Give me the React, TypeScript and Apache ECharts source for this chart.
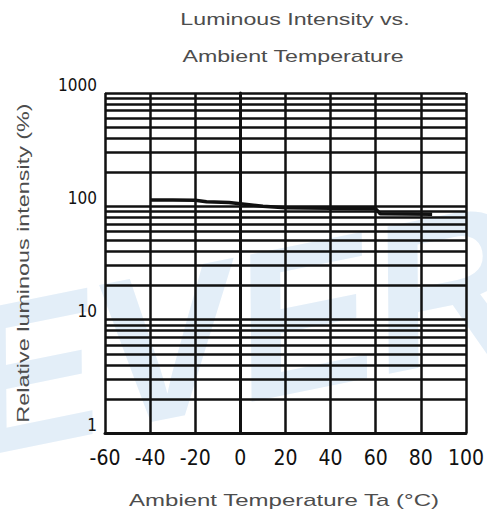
import React, { useEffect, useRef } from "react";
import * as echarts from "echarts";

const temperatures = [-40, -30, -20, -15, -5, 10, 20, 40, 60, 62, 85];
const intensities = [114, 114, 113, 110, 108, 100, 97, 96, 95, 86, 85];
const minorGridValues = [2, 3, 4, 5, 6, 7, 8, 9, 20, 30, 40, 50, 60, 70, 80, 90, 200, 300, 400, 500, 600, 700, 800, 900];
const yTickLabels: Record<number, string> = { 1: "1", 10: "10", 100: "100", 1000: "1000" };
const titleLines = ["Luminous Intensity vs.", "Ambient Temperature"];
const xAxisTitle = "Ambient Temperature Ta (°C)";
const yAxisTitle = "Relative luminous intensity (%)";
const watermarkText = "EVERLIGHT";

export default function App() {
  const ref = useRef<HTMLDivElement>(null);
  useEffect(() => {
    if (!ref.current) return;
    const chart = echarts.init(ref.current, null, { renderer: "svg" });
    const narrow = "'Liberation Sans Narrow', 'DejaVu Sans Condensed', sans-serif";
    const sans = "'Liberation Sans', Arial, sans-serif";
    const labelText = (text: string, x: number, y: number, scaleX: number, rotation = 0) => ({
      type: "text",
      silent: true,
      x,
      y,
      scaleX,
      rotation,
      z: 10,
      style: {
        text,
        fontFamily: sans,
        fontSize: 16,
        fill: "#4d4d4d",
        align: "center",
        verticalAlign: "middle",
      },
    });
    chart.setOption({
      animation: false,
      backgroundColor: "#ffffff",
      graphic: [
        {
          type: "text",
          z: -10,
          silent: true,
          x: -20,
          y: 490,
          rotation: 0.2,
          style: {
            text: watermarkText,
            fontFamily: sans,
            fontSize: 210,
            fontWeight: "bold",
            fontStyle: "italic",
            fill: "#e3eef8",
            verticalAlign: "bottom",
          },
        },
        labelText(titleLines[0], 295, 19, 1.45),
        labelText(titleLines[1], 293, 56, 1.45),
        labelText(xAxisTitle, 284, 501, 1.5),
        labelText(yAxisTitle, 23, 263, 1.46, Math.PI / 2),
      ],
      grid: { left: 105, top: 93, width: 365, height: 340, containLabel: false },
      xAxis: {
        type: "value",
        min: -60,
        max: 100,
        interval: 20,
        axisLine: { show: true, lineStyle: { color: "#111", width: 3 } },
        axisTick: { show: false },
        axisLabel: {
          margin: 14,
          fontFamily: narrow,
          fontSize: 21,
          color: "#111",
        },
        splitLine: { show: true, lineStyle: { color: "#111", width: 2.5 } },
      },
      yAxis: {
        type: "log",
        logBase: 10,
        min: 1,
        max: 1000,
        axisLine: { show: true, lineStyle: { color: "#111", width: 3 } },
        axisTick: { show: false },
        axisLabel: {
          margin: 8,
          fontFamily: narrow,
          fontSize: 17,
          color: "#111",
          verticalAlign: "bottom",
          formatter: (v: number) => yTickLabels[Math.round(v)] ?? String(v),
        },
        splitLine: { show: true, lineStyle: { color: "#111", width: 2.5 } },
      },
      series: [
        {
          type: "line",
          data: temperatures.map((t, i) => [t, intensities[i]]),
          showSymbol: false,
          symbol: "none",
          lineStyle: { color: "#111", width: 3.5 },
          z: 5,
          markLine: {
            silent: true,
            symbol: "none",
            label: { show: false },
            lineStyle: { color: "#111", width: 2.5, type: "solid" },
            data: minorGridValues.map((v) => ({ yAxis: v })),
          },
        },
      ],
    });
    return () => chart.dispose();
  }, []);
  return (
    <div
      ref={ref}
      style={{ position: "fixed", left: 0, top: 0, width: 487, height: 518 }}
    />
  );
}
